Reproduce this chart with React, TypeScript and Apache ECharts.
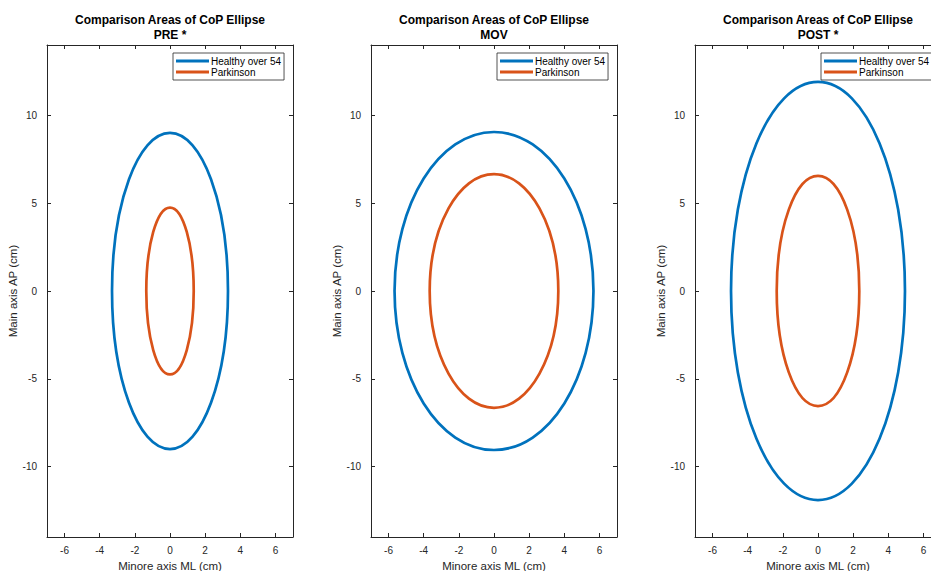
import React, { useEffect, useRef } from 'react';
import * as echarts from 'echarts';

const panelTitles = ['PRE *', 'MOV', 'POST *'];
const seriesNames = ['Healthy over 54', 'Parkinson'];
const healthyML = [3.3, 5.66, 4.95];
const healthyAP = [9.0, 9.05, 11.9];
const parkinsonML = [1.35, 3.66, 2.35];
const parkinsonAP = [4.75, 6.65, 6.55];
const xTicks = [-6, -4, -2, 0, 2, 4, 6];
const yTicks = [-10, -5, 0, 5, 10];
const xRange = [-7, 7];
const yRange = [-14, 14];
const mainTitle = 'Comparison Areas of CoP Ellipse';
const xName = 'Minore axis ML (cm)';
const yName = 'Main axis AP (cm)';

const gridLefts = [47, 371, 695];
const GRID_TOP = 45;
const GRID_W = 246;
const GRID_H = 492;
const colors = ['#0072BD', '#D95319'];
const axisColor = '#262626';
const FONT = '"Liberation Sans", Arial, Helvetica, sans-serif';

function xAxisCfg(gi: number, pos: 'bottom' | 'top', labels: boolean) {
  return {
    type: 'value',
    gridIndex: gi,
    position: pos,
    min: xRange[0],
    max: xRange[1],
    axisLine: { show: true, onZero: false, lineStyle: { color: axisColor, width: 1 } },
    axisTick: { show: true, inside: true, length: 4, customValues: xTicks, lineStyle: { color: axisColor, width: 1 } },
    axisLabel: { show: labels, customValues: xTicks, margin: 8, color: axisColor, fontSize: 10, fontFamily: FONT },
    splitLine: { show: false },
    name: labels ? xName : '',
    nameLocation: 'middle',
    nameGap: 23,
    nameTextStyle: { fontSize: 11.5, color: axisColor, fontFamily: FONT },
  };
}

function yAxisCfg(gi: number, pos: 'left' | 'right', labels: boolean) {
  return {
    type: 'value',
    gridIndex: gi,
    position: pos,
    min: yRange[0],
    max: yRange[1],
    axisLine: { show: true, onZero: false, lineStyle: { color: axisColor, width: 1 } },
    axisTick: { show: true, inside: true, length: 4, customValues: yTicks, lineStyle: { color: axisColor, width: 1 } },
    axisLabel: { show: labels, customValues: yTicks, margin: 10, color: axisColor, fontSize: 10, fontFamily: FONT },
    splitLine: { show: false },
    name: labels ? yName : '',
    nameLocation: 'middle',
    nameGap: 21,
    nameTextStyle: { fontSize: 11.5, color: axisColor, fontFamily: FONT },
  };
}

function ellipseRender(color: string) {
  return (params: any, api: any) => {
    const c = api.coord([api.value(0), api.value(1)]);
    const s = api.size([api.value(2), api.value(3)]);
    return {
      type: 'ellipse',
      shape: { cx: c[0], cy: c[1], rx: s[0], ry: s[1] },
      style: { fill: 'none', stroke: color, lineWidth: 2.7 },
    };
  };
}

export default function App() {
  const ref = useRef<HTMLDivElement>(null);
  useEffect(() => {
    if (!ref.current) return;
    const chart = echarts.init(ref.current, null, { renderer: 'svg' });
    const grids: any[] = [];
    const xAxes: any[] = [];
    const yAxes: any[] = [];
    const titles: any[] = [];
    const legends: any[] = [];
    const series: any[] = [];
    const semi = [
      [healthyML, healthyAP],
      [parkinsonML, parkinsonAP],
    ];
    panelTitles.forEach((pt, i) => {
      grids.push({
        left: gridLefts[i],
        top: GRID_TOP,
        width: GRID_W,
        height: GRID_H,
        containLabel: false,
        outerBoundsMode: 'none',
      });
      xAxes.push(xAxisCfg(i, 'bottom', true));
      xAxes.push(xAxisCfg(i, 'top', false));
      yAxes.push(yAxisCfg(i, 'left', true));
      yAxes.push(yAxisCfg(i, 'right', false));
      titles.push({
        text: mainTitle + '\n' + pt,
        left: gridLefts[i] + GRID_W / 2,
        top: 12,
        textAlign: 'center',
        padding: 0,
        textStyle: { fontSize: 12, fontWeight: 'bold', color: '#000', lineHeight: 15.5, fontFamily: FONT },
      });
      legends.push({
        orient: 'vertical',
        left: gridLefts[i] + 126,
        top: 53,
        data: seriesNames,
        icon: 'rect',
        itemWidth: 33,
        itemHeight: 3,
        itemGap: 1,
        padding: [3, 3, 3, 3],
        borderColor: axisColor,
        borderWidth: 0.8,
        backgroundColor: '#ffffff',
        selectedMode: false,
        textStyle: { fontSize: 10, color: '#000', fontFamily: FONT, padding: [0, 0, 0, -3] },
      });
      seriesNames.forEach((nm, s) => {
        series.push({
          type: 'custom',
          name: nm,
          xAxisIndex: 2 * i,
          yAxisIndex: 2 * i,
          itemStyle: { color: colors[s] },
          encode: { x: 0, y: 1 },
          data: [[0, 0, semi[s][0][i], semi[s][1][i]]],
          renderItem: ellipseRender(colors[s]),
        });
      });
    });
    chart.setOption({
      animation: false,
      backgroundColor: '#ffffff',
      title: titles,
      legend: legends,
      grid: grids,
      xAxis: xAxes,
      yAxis: yAxes,
      series,
    });
    return () => chart.dispose();
  }, []);
  return <div ref={ref} style={{ position: 'fixed', left: 0, top: 0, width: 931, height: 571 }} />;
}
